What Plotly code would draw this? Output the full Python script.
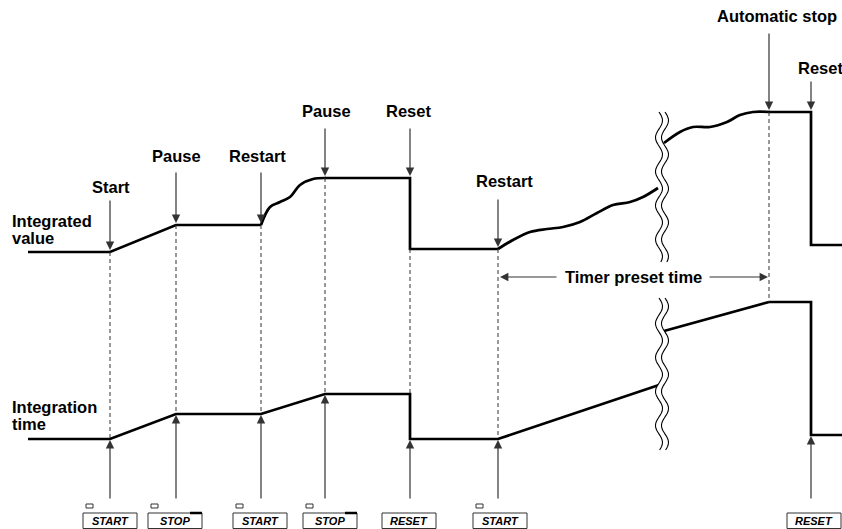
import numpy as np
import plotly.graph_objects as go

# events along the time axis (pixel positions of the diagram)
event_x = [110, 176, 261, 325, 410, 498, 769, 811]
event_labels = ["Start", "Pause", "Restart", "Pause", "Reset", "Restart", "Automatic stop", "Reset"]

# integrated value trace, split into straight and smooth pieces
iv_lin1_x = [28, 110, 176, 261]
iv_lin1_y = [252, 252, 225, 225]
iv_curve1_x = [261, 270, 280, 290, 300, 313, 326]
iv_curve1_y = [225, 207, 202, 197, 185, 179, 178]
iv_lin2_x = [325, 410, 410, 498]
iv_lin2_y = [178, 178, 249, 249]
iv_curve2_x = [498, 513, 530, 547, 563, 580, 597, 613, 630, 643, 658]
iv_curve2_y = [249, 240, 232, 229, 227, 222, 213, 205, 202, 197, 188]
iv_curve3_x = [664, 680, 693, 710, 727, 740, 753, 770]
iv_curve3_y = [143, 132, 127, 127, 122, 115, 112, 112]
iv_lin3_x = [769, 811, 811, 842]
iv_lin3_y = [112, 112, 245, 245]

# integration time trace
it_a_x = [28, 110, 176, 261, 325, 410, 410, 498, 659]
it_a_y = [439, 439, 414, 414, 394, 394, 439, 439, 385]
it_b_x = [664, 769, 811, 811, 842]
it_b_y = [331, 302, 302, 435, 435]

# buttons under the diagram
btn_x = [110, 175, 260, 330, 409, 500, 814]
btn_labels = ["START", "STOP", "START", "STOP", "RESET", "START", "RESET"]
btn_led = [True, True, True, True, False, True, False]

FONT = "Liberation Sans, Arial, Helvetica, sans-serif"
INK = "#000000"
ARROW = "#333333"

fig = go.Figure()


def add_line(xs, ys, shape="linear"):
    fig.add_trace(go.Scatter(x=xs, y=ys, mode="lines",
                             line=dict(color=INK, width=2.7, shape=shape, smoothing=1.0),
                             hoverinfo="skip", showlegend=False))


add_line(iv_lin1_x, iv_lin1_y)
add_line(iv_curve1_x, iv_curve1_y, "spline")
add_line(iv_lin2_x, iv_lin2_y)
add_line(iv_curve2_x, iv_curve2_y, "spline")
add_line(iv_curve3_x, iv_curve3_y, "spline")
add_line(iv_lin3_x, iv_lin3_y)
add_line(it_a_x, it_a_y)
add_line(it_b_x, it_b_y)

shapes = []
annotations = []

# dashed guide lines
dash_top = [252, 225, 225, 178, 249, 249, 112]
dash_bot = [438, 413, 413, 393, 393, 438, 302]
for x, y0, y1 in zip(event_x[:7], dash_top, dash_bot):
    shapes.append(dict(type="line", x0=x, x1=x, y0=y0, y1=y1, xref="x", yref="y",
                       line=dict(color=ARROW, width=1, dash="4px,3px")))


# wavy break marks
def wave_path(xc, y0, y1):
    ys = np.linspace(y0, y1, 80)
    xs = xc + 3.5 * np.sin((ys - y0) / 34.0 * 2 * np.pi)
    return xs, ys


for (y0, y1) in [(112, 262), (298, 450)]:
    xs, ys = wave_path(659, y0, y1)
    left = " L".join(f"{a:.1f},{b:.1f}" for a, b in zip(xs, ys))
    right = " L".join(f"{a + 6:.1f},{b:.1f}" for a, b in zip(xs[::-1], ys[::-1]))
    shapes.append(dict(type="path", path=f"M{left} L{right} Z", xref="x", yref="y",
                       fillcolor="white", line=dict(width=0), layer="above"))
    shapes.append(dict(type="path", path=f"M{left}", xref="x", yref="y",
                       line=dict(color=INK, width=1.1), layer="above"))
    right2 = " L".join(f"{a + 6:.1f},{b:.1f}" for a, b in zip(xs, ys))
    shapes.append(dict(type="path", path=f"M{right2}", xref="x", yref="y",
                       line=dict(color=INK, width=1.1), layer="above"))

# event labels with arrows pointing down to the integrated value
label_x = [111, 176, 257, 326, 408, 504, 777, 796]
label_y = [187, 156, 156, 111, 111, 181, 16, 68]
tail_y = [199, 171, 171, 127, 127, 198, 32, 80]
tip_y = [250, 223, 223, 176, 176, 247, 110, 110]
for i, txt in enumerate(event_labels):
    annotations.append(dict(x=label_x[i], y=label_y[i], text=f"<b>{txt}</b>", showarrow=False,
                            xanchor="left" if i == 7 else "center", yanchor="middle",
                            font=dict(family=FONT, size=16.5, color=INK)))
    annotations.append(dict(x=event_x[i], y=tip_y[i], ax=event_x[i], ay=tail_y[i],
                            xref="x", yref="y", axref="x", ayref="y", text="",
                            showarrow=True, arrowhead=2, arrowsize=1.4, arrowwidth=1.2,
                            arrowcolor=ARROW))

# arrows up from the buttons to the integration time
up_x = [110, 176, 261, 325, 410, 498, 811]
up_tip = [440, 415, 415, 395, 440, 440, 436]
for x, y in zip(up_x, up_tip):
    annotations.append(dict(x=x, y=y, ax=x, ay=500, xref="x", yref="y", axref="x", ayref="y",
                            text="", showarrow=True, arrowhead=2, arrowsize=1.4, arrowwidth=1.2,
                            arrowcolor=ARROW))

# timer preset time
annotations.append(dict(x=633, y=277, text="<b>Timer preset time</b>", showarrow=False,
                        font=dict(family=FONT, size=16.5, color=INK)))
annotations.append(dict(x=500, y=277, ax=558, ay=277, xref="x", yref="y", axref="x", ayref="y",
                        text="", showarrow=True, arrowhead=2, arrowsize=1.4, arrowwidth=1.2,
                        arrowcolor=ARROW))
annotations.append(dict(x=768, y=277, ax=708, ay=277, xref="x", yref="y", axref="x", ayref="y",
                        text="", showarrow=True, arrowhead=2, arrowsize=1.4, arrowwidth=1.2,
                        arrowcolor=ARROW))

# row titles
for txt, y in [("Integrated", 221), ("value", 238), ("Integration", 407), ("time", 424)]:
    annotations.append(dict(x=10, y=y, text=f"<b>{txt}</b>", showarrow=False, xanchor="left",
                            yanchor="middle", font=dict(family=FONT, size=16.5, color=INK)))

# buttons
for x, lab, led in zip(btn_x, btn_labels, btn_led):
    shapes.append(dict(type="rect", x0=x - 27, x1=x + 27, y0=513, y1=528.5, xref="x", yref="y",
                       line=dict(color=ARROW, width=1)))
    if led:
        shapes.append(dict(type="rect", x0=x - 24, x1=x - 17, y0=504, y1=508, xref="x", yref="y",
                           line=dict(color=ARROW, width=1)))
    if lab == "STOP":
        shapes.append(dict(type="line", x0=x + 15, x1=x + 27, y0=513, y1=513, xref="x", yref="y",
                           line=dict(color=INK, width=2.5)))
    annotations.append(dict(x=x, y=521, text=f"<b><i>{lab}</i></b>", showarrow=False,
                            font=dict(family=FONT, size=11, color=INK)))

fig.update_layout(
    width=842, height=529,
    margin=dict(l=0, r=0, t=0, b=0),
    paper_bgcolor="white", plot_bgcolor="white",
    xaxis=dict(range=[0, 842], visible=False, fixedrange=True),
    yaxis=dict(range=[529, 0], visible=False, fixedrange=True),
    shapes=shapes, annotations=annotations,
    showlegend=False,
)

# drop the browser's default page margin so the figure fills the window
fig.write_html("out.html", config={"displayModeBar": False},
               post_script="document.body.style.margin='0';document.body.style.overflow='hidden';")
